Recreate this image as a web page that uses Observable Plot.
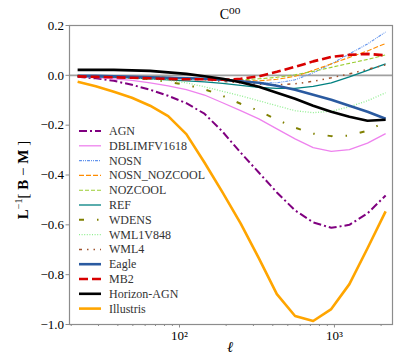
<!DOCTYPE html>
<html>
<head>
<meta charset="utf-8">
<script src="https://cdn.jsdelivr.net/npm/d3@7"></script>
<script src="https://cdn.jsdelivr.net/npm/@observablehq/plot@0.6"></script>
<style>
  html, body { margin: 0; padding: 0; background: #fff; }
  #chart { position: relative; width: 398px; height: 360px; }
  svg { display: block; }
</style>
</head>
<body>
<div id="chart"></div>
<script>
// ---- data ----
const ell = [22, 28.8, 37.7, 49.3, 64.6, 84.5, 110.7, 144.9, 189.6, 248, 325, 425, 557, 729, 954, 1249, 1635, 2140];

const seriesNames = ["AGN", "DBLIMFV1618", "NOSN", "NOSN_NOZCOOL", "NOZCOOL", "REF", "WDENS", "WML1V848", "WML4", "Eagle", "MB2", "Horizon-AGN", "Illustris"];

const AGN          = [-0.006,-0.012,-0.022,-0.038,-0.058,-0.082,-0.112,-0.154,-0.226,-0.31,-0.39,-0.47,-0.542,-0.59,-0.612,-0.6,-0.554,-0.482];
const DBLIMFV1618  = [-0.004,-0.008,-0.014,-0.02,-0.03,-0.042,-0.057,-0.079,-0.11,-0.142,-0.175,-0.215,-0.255,-0.29,-0.305,-0.298,-0.272,-0.234];
const NOSN         = [-0.002,-0.003,-0.004,-0.005,-0.006,-0.008,-0.01,-0.014,-0.02,-0.026,-0.03,-0.03,-0.018,0.01,0.046,0.086,0.126,0.174];
const NOSN_NOZCOOL = [-0.002,-0.003,-0.004,-0.005,-0.006,-0.008,-0.011,-0.014,-0.018,-0.022,-0.022,-0.016,-0.004,0.02,0.046,0.072,0.098,0.128];
const NOZCOOL      = [-0.002,-0.003,-0.004,-0.005,-0.006,-0.008,-0.011,-0.014,-0.018,-0.018,-0.014,-0.008,0.002,0.016,0.032,0.048,0.064,0.082];
const REF          = [-0.004,-0.006,-0.008,-0.01,-0.014,-0.018,-0.022,-0.026,-0.032,-0.04,-0.048,-0.052,-0.052,-0.044,-0.03,-0.006,0.02,0.046];
const WDENS        = [-0.002,-0.004,-0.006,-0.01,-0.016,-0.026,-0.038,-0.056,-0.082,-0.114,-0.142,-0.178,-0.21,-0.234,-0.244,-0.242,-0.222,-0.186];
const WML1V848     = [-0.002,-0.004,-0.006,-0.01,-0.014,-0.02,-0.03,-0.046,-0.064,-0.082,-0.102,-0.122,-0.142,-0.15,-0.144,-0.126,-0.102,-0.07];
const WML4         = [-0.002,-0.003,-0.005,-0.007,-0.009,-0.012,-0.015,-0.018,-0.024,-0.03,-0.036,-0.038,-0.034,-0.024,-0.01,0.006,0.024,0.042];
const Eagle        = [-0.002,-0.002,-0.004,-0.006,-0.008,-0.01,-0.012,-0.014,-0.018,-0.024,-0.03,-0.042,-0.058,-0.078,-0.098,-0.122,-0.146,-0.174];
const MB2          = [-0.004,-0.006,-0.008,-0.01,-0.012,-0.014,-0.016,-0.016,-0.018,-0.014,-0.004,0.014,0.034,0.056,0.074,0.082,0.086,0.08];
const HorizonAGN   = [0.022,0.022,0.022,0.02,0.018,0.012,0.006,-0.004,-0.014,-0.028,-0.046,-0.07,-0.094,-0.122,-0.146,-0.166,-0.182,-0.178];
const Illustris    = [-0.026,-0.044,-0.066,-0.09,-0.122,-0.164,-0.236,-0.35,-0.47,-0.594,-0.734,-0.878,-0.966,-0.986,-0.938,-0.838,-0.694,-0.546];

const yTicks = [0.2, 0.0, -0.2, -0.4, -0.6, -0.8, -1.0];
const xMajorTicks = [100, 1000];
const xMajorLabels = ["10²", "10³"];
const xMinorTicks = [20,30,40,50,60,70,80,90,200,300,400,500,600,700,800,900,2000];

// ---- styles ----
const values = [AGN, DBLIMFV1618, NOSN, NOSN_NOZCOOL, NOZCOOL, REF, WDENS, WML1V848, WML4, Eagle, MB2, HorizonAGN, Illustris];
const styles = [
  {stroke: "#800080", strokeWidth: 2,   dash: "8,3,2,3"},
  {stroke: "#ee82ee", strokeWidth: 1.3, dash: null},
  {stroke: "#6495ed", strokeWidth: 1.1, dash: "3,1,1,1,1,1"},
  {stroke: "#ff8c00", strokeWidth: 1.1, dash: "5,2"},
  {stroke: "#9acd32", strokeWidth: 1.1, dash: "4,2"},
  {stroke: "#008080", strokeWidth: 1.3, dash: null},
  {stroke: "#808000", strokeWidth: 2,   dash: "5,13,1.5,13"},
  {stroke: "#90ee90", strokeWidth: 1.3, dash: "1,1.6"},
  {stroke: "#a0522d", strokeWidth: 1.5, dash: "3,5,1.5,5,1.5,5"},
  {stroke: "#2a5aa0", strokeWidth: 2.6, dash: null},
  {stroke: "#d80000", strokeWidth: 2.6, dash: "9,4"},
  {stroke: "#000000", strokeWidth: 2.6, dash: null},
  {stroke: "#ffa500", strokeWidth: 2.6, dash: null}
];

const tables = values.map((vals, k) => vals.map((v, i) => ({ell: ell[i], value: v, series: seriesNames[k]})));

const lineMarks = tables.map((t, k) => Plot.line(t, {
  x: "ell", y: "value",
  stroke: styles[k].stroke,
  strokeWidth: styles[k].strokeWidth,
  strokeDasharray: styles[k].dash,
  strokeLinejoin: "round",
  strokeLinecap: "butt"
}));

const fmt = d => (d < 0 ? "−" : "") + Math.abs(d).toFixed(1);

const chart = Plot.plot({
  width: 398,
  height: 360,
  marginLeft: 69,
  marginRight: 6,
  marginTop: 25,
  marginBottom: 36,
  style: {fontFamily: "'Liberation Serif', 'DejaVu Serif', serif", fontSize: "13px", color: "#000", background: "#fff"},
  x: {type: "log", domain: [19.5, 2370]},
  y: {domain: [-1.0, 0.2]},
  marks: [
    Plot.ruleY([0], {stroke: "#a0a0a0", strokeWidth: 1.8}),
    ...lineMarks,
    Plot.frame({stroke: "#8c8c8c", strokeWidth: 1.2}),
    Plot.axisY({ticks: yTicks, tickFormat: fmt, tickSize: 3.5, tickPadding: 2, stroke: "#8c8c8c", label: null, fontSize: 13}),
    Plot.axisX({ticks: xMajorTicks, tickFormat: (d, i) => xMajorLabels[xMajorTicks.indexOf(d)], tickSize: 3.5, tickPadding: 3, stroke: "#8c8c8c", label: null, fontSize: 13}),
    Plot.axisX({ticks: xMinorTicks, tickFormat: () => "", tickSize: 2, stroke: "#8c8c8c", label: null})
  ]
});

document.getElementById("chart").appendChild(chart);

// ---- annotations: title, axis labels, legend ----
const svg = d3.select(chart);
const fontFam = "'Liberation Serif', 'DejaVu Serif', serif";

svg.append("text")
  .attr("x", 230).attr("y", 19)
  .attr("text-anchor", "middle")
  .attr("font-family", fontFam).attr("font-size", 14).attr("fill", "#000")
  .text("C⁰⁰");

svg.append("text")
  .attr("x", 230).attr("y", 352)
  .attr("text-anchor", "middle")
  .attr("font-family", fontFam).attr("font-size", 15).attr("font-style", "italic").attr("fill", "#000")
  .text("ℓ");

const yl = svg.append("text")
  .attr("transform", "translate(28,180) rotate(-90)")
  .attr("text-anchor", "middle")
  .attr("font-family", fontFam).attr("font-size", 15).attr("fill", "#000");
yl.append("tspan").attr("font-weight", "bold").text("L");
yl.append("tspan").attr("font-size", 10).attr("dy", -6).text("−1");
yl.append("tspan").attr("dy", 6).text("[ ");
yl.append("tspan").attr("font-weight", "bold").text("B");
yl.append("tspan").text(" − ");
yl.append("tspan").attr("font-weight", "bold").text("M");
yl.append("tspan").text(" ]");

const leg = svg.append("g").attr("text-anchor", "start");
seriesNames.forEach((name, k) => {
  const y = 131 + 14.8 * k;
  leg.append("line")
    .attr("x1", 79).attr("x2", 101).attr("y1", y).attr("y2", y)
    .attr("stroke", styles[k].stroke)
    .attr("stroke-width", styles[k].strokeWidth)
    .attr("stroke-dasharray", styles[k].dash);
  leg.append("text")
    .attr("x", 109).attr("y", y + 4)
    .attr("text-anchor", "start")
    .attr("font-family", fontFam).attr("font-size", 12).attr("fill", "#333")
    .text(name);
});
</script>
</body>
</html>
